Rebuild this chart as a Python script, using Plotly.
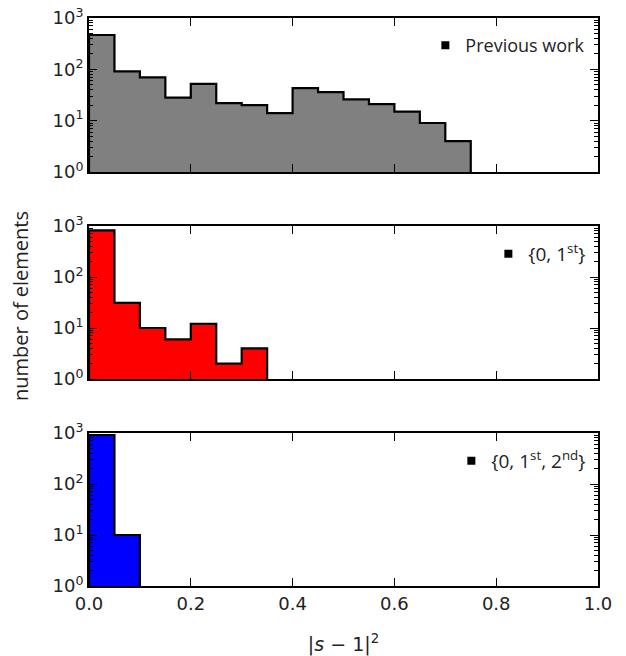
import plotly.graph_objects as go

# ---- data ----
bin_width = 0.05
counts_previous = [466, 91, 70, 28, 52, 22, 20, 14, 43, 36, 26, 21, 15, 9, 4]
counts_first = [822, 31, 10, 6, 12, 2, 4]
counts_second = [913, 10]
names = ["Previous work", "{0, 1<sup>st</sup>}", "{0, 1<sup>st</sup>, 2<sup>nd</sup>}"]
colors = ["#808080", "#ff0000", "#0000ff"]
x_ticks = [0.0, 0.2, 0.4, 0.6, 0.8, 1.0]
x_ticklabels = ["0.0", "0.2", "0.4", "0.6", "0.8", "1.0"]
y_ticks = [1, 10, 100, 1000]
y_ticklabels = ["10<sup>0</sup>", "10<sup>1</sup>", "10<sup>2</sup>", "10<sup>3</sup>"]
y_minor = [m * 10 ** e for e in range(3) for m in range(2, 10)]


def step_polygon(counts, width, floor=1):
    xs, ys = [0.0], [floor]
    for i, c in enumerate(counts):
        x0, x1 = i * width, (i + 1) * width
        xs += [x0, x1]
        ys += [c, c]
    xs.append(len(counts) * width)
    ys.append(floor)
    return xs, ys


fig = go.Figure()
H_TOTAL = 568.0
domains = [
    [(586 - 172) / H_TOTAL, 1.0],
    [(586 - 379) / H_TOTAL, (586 - 226) / H_TOTAL],
    [0.0, (586 - 433) / H_TOTAL],
]
legend_pos = [(0.985, 1.0 - 9 / H_TOTAL), (0.985, domains[1][1] - 9 / H_TOTAL), (0.985, domains[2][1] - 9 / H_TOTAL)]
all_counts = [counts_previous, counts_first, counts_second]

font = "DejaVu Sans"
font2 = "Open Sans"
legend_sizes = [18, 19, 19]
for k, counts in enumerate(all_counts):
    xs, ys = step_polygon(counts, bin_width)
    ax = "" if k == 0 else str(k + 1)
    fig.add_trace(go.Scatter(
        x=xs, y=ys, mode="lines", fill="toself", fillcolor=colors[k],
        line=dict(color="black", width=2.2), showlegend=False, hoverinfo="skip",
        xaxis="x" + ax, yaxis="y" + ax,
    ))
    lname = "legend" if k == 0 else "legend" + str(k + 1)
    fig.add_trace(go.Scatter(
        x=[None], y=[None], mode="markers", name=names[k],
        marker=dict(symbol="square", color="black", size=8),
        xaxis="x" + ax, yaxis="y" + ax, legend=lname, showlegend=True,
    ))
    xa = dict(
        domain=[0, 1], range=[0, 1], anchor="y" + ax, automargin=False,
        tickmode="array", tickvals=x_ticks, ticktext=x_ticklabels,
        showticklabels=(k == 2), ticks="inside", ticklen=8, tickwidth=1.2, tickcolor="black",
        showline=True, linecolor="black", linewidth=2, mirror="allticks",
        showgrid=False, zeroline=False,
        tickfont=dict(family=font, size=18, color="#222"),
    )
    if k == 2:
        xa["title"] = dict(text="|<i>s</i> − 1|<sup>2</sup>", font=dict(family=font, size=19, color="#222"), standoff=25)
    ya = dict(
        domain=domains[k], type="log", range=[0, 3], anchor="x" + ax, automargin=False,
        tickmode="array", tickvals=y_ticks, ticktext=y_ticklabels,
        ticks="inside", ticklen=8, tickwidth=1.2, tickcolor="black",
        minor=dict(tickmode="array", tickvals=y_minor, ticks="inside", ticklen=4, tickwidth=1, tickcolor="black", showgrid=False),
        showline=True, linecolor="black", linewidth=2, mirror="allticks",
        showgrid=False, zeroline=False,
        tickfont=dict(family=font, size=18, color="#222"),
    )
    fig.layout["xaxis" + ax] = xa
    fig.layout["yaxis" + ax] = ya
    fig.layout[lname] = dict(
        x=legend_pos[k][0], y=legend_pos[k][1], xanchor="right", yanchor="top",
        bgcolor="rgba(0,0,0,0)", borderwidth=0,
        font=dict(family=font2, size=legend_sizes[k], color="#222"), itemwidth=30,
    )

fig.add_annotation(
    text="number of elements", textangle=-90, xref="paper", yref="paper",
    x=-(89 - 20) / 509.0, y=(586 - 306) / H_TOTAL, showarrow=False,
    font=dict(family=font2, size=20, color="#222"), xanchor="center", yanchor="middle",
)

fig.update_layout(
    width=626, height=656,
    margin=dict(l=89, r=28, t=18, b=70),
    paper_bgcolor="white", plot_bgcolor="white",
)
fig.write_html("out.html", post_script="document.body.style.margin='0';",
               config={"displayModeBar": False})
